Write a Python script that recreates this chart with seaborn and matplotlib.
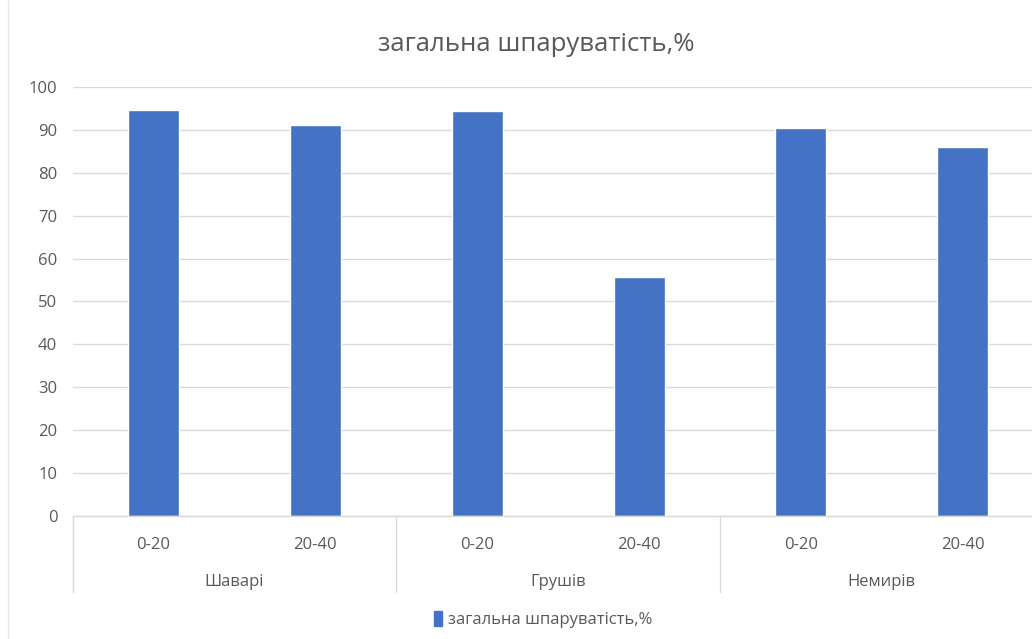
import pandas as pd
import numpy as np
import matplotlib.pyplot as plt
import matplotlib.transforms as mtransforms
from matplotlib.patches import Patch
import seaborn as sns

sites = ['Шаварі', 'Шаварі', 'Грушів', 'Грушів', 'Немирів', 'Немирів']
depths = ['0-20', '20-40', '0-20', '20-40', '0-20', '20-40']
values = [94.7, 91.1, 94.4, 55.8, 90.5, 85.9]
title = 'загальна шпаруватість,%'

data = pd.DataFrame({'site': sites, 'depth': depths, 'value': values})
data['key'] = data['site'] + ' ' + data['depth']

sns.set_theme(style='white')
plt.rcParams['font.family'] = ['Open Sans', 'DejaVu Sans']

grey = '#595959'
gridc = '#D9D9D9'

fig = plt.figure(figsize=(10.32, 6.39), dpi=100)
ax = fig.add_axes([0.0703, 0.1925, 0.941, 0.6714])

sns.barplot(data=data, x='key', y='value', order=list(data['key']),
            color='#4472C4', saturation=1, width=0.315, ax=ax)

ax.set_ylim(0, 100)
ax.set_yticks(np.arange(0, 101, 10))
ax.set_xlim(-0.5, len(values) - 0.5)
ax.yaxis.grid(True, color=gridc, linewidth=1)
ax.set_axisbelow(True)
for s in ['top', 'right', 'left']:
    ax.spines[s].set_visible(False)
ax.spines['bottom'].set_color(gridc)
ax.spines['bottom'].set_linewidth(1)

ax.set_xticks(range(len(depths)))
ax.set_xticklabels(depths)
ax.tick_params(axis='x', length=0, pad=15, labelsize=12, labelcolor=grey)
ax.tick_params(axis='y', length=0, pad=11, labelsize=12, labelcolor=grey)
ax.set_xlabel('')
ax.set_ylabel('')

# group labels and separators under the axis
trans = mtransforms.blended_transform_factory(ax.transData, ax.transAxes)
group_names = list(dict.fromkeys(sites))
for i, name in enumerate(group_names):
    ax.text(2 * i + 0.5, -0.154, name, transform=trans, ha='center', va='center',
            fontsize=12, color=grey)
for b in [-0.5, 1.5, 3.5, 5.5]:
    ax.plot([b, b], [0, -0.177], transform=trans, color=gridc, linewidth=1, clip_on=False)

fig.text(0.52, 0.93, title, ha='center', va='center', fontsize=18.5, color=grey)

fig.legend(handles=[Patch(color='#4472C4', label=title)], loc='center',
           bbox_to_anchor=(0.526, 0.03), frameon=False, fontsize=12,
           handlelength=0.5, handleheight=1.0, handletextpad=0.35, labelcolor=grey)

# faint chart-area border on the left
fig.add_artist(plt.Line2D([0.008, 0.008], [0.0, 1.0], color='#E6E6E6', linewidth=1))

fig.savefig('out.png', dpi=100)
